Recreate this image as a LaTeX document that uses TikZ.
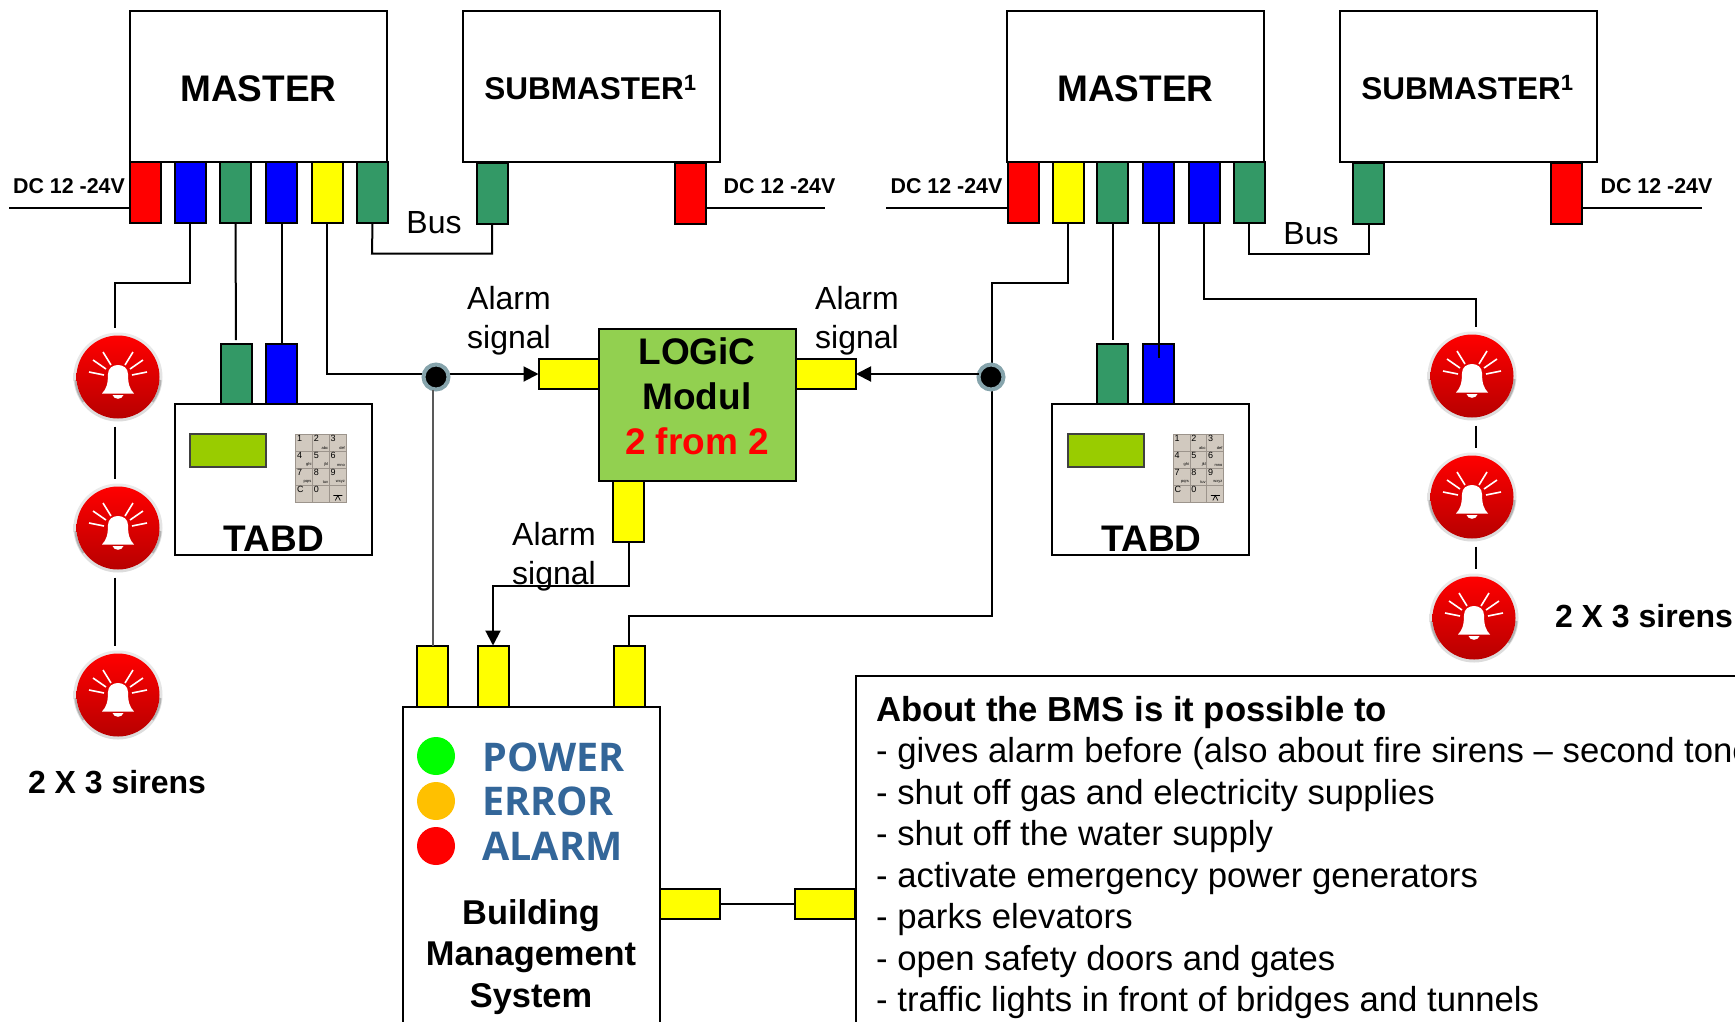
\documentclass[tikz,border=0pt]{standalone}
\usepackage{fontspec}
\setmainfont{Liberation Sans}
\newfontfamily\lampfont{Open Sans}
\usetikzlibrary{arrows.meta}
\definecolor{pgreen}{HTML}{339966}
\definecolor{pblue}{HTML}{0000FF}
\definecolor{pred}{HTML}{FF0000}
\definecolor{pyellow}{HTML}{FFFF00}
\definecolor{logicgreen}{HTML}{92D050}
\definecolor{lcdgreen}{HTML}{99CC00}
\definecolor{keybeige}{HTML}{D1C9BF}
\definecolor{keyline}{HTML}{9C948C}
\definecolor{lampblue}{HTML}{336699}
\definecolor{lampamber}{HTML}{FFC000}
\definecolor{junctiongray}{HTML}{86A4AC}
\tikzstyle{arrow} = [line width=2pt,->,>={Triangle[length=15pt,width=15pt]}]
\tikzstyle{wire} = [line width=2pt,line join=miter]
\tikzstyle{box} = [draw=black,fill=white,line width=2pt,inner sep=0pt,outer sep=0pt]
\tikzstyle{port} = [box,minimum width=31pt,minimum height=61pt]
\tikzstyle{sideport} = [box,fill=pyellow,minimum width=60pt,minimum height=30pt]
\tikzstyle{bigname} = [inner sep=0pt,font=\bfseries\fontsize{37}{37}\selectfont]
\tikzstyle{subname} = [inner sep=0pt,font=\bfseries\fontsize{31.5}{31.5}\selectfont]
\tikzstyle{dclabel} = [inner sep=0pt,font=\bfseries\fontsize{21.4}{21.4}\selectfont]
\tikzstyle{signal} = [inner sep=0pt,align=center,font=\fontsize{32}{38.5}\selectfont]
\tikzstyle{sirenlabel} = [inner sep=0pt,font=\bfseries\fontsize{32}{32}\selectfont]
\tikzstyle{lamp} = [circle,inner sep=0pt,minimum size=38pt]
\tikzstyle{lamptext} = [anchor=west,inner sep=0pt,text=lampblue,font=\lampfont\bfseries\fontsize{39.5}{39.5}\selectfont]
\tikzstyle{junction} = [circle,fill=black,draw=junctiongray,line width=4pt,minimum size=25pt,inner sep=0pt,outer sep=0pt]
\tikzstyle{keycell} = [draw=keyline,fill=keybeige,line width=1pt,minimum width=16.7pt,minimum height=17pt,inner sep=0pt,outer sep=0pt]
\tikzstyle{keynum} = [anchor=north west,inner sep=1pt,font=\fontsize{9}{9}\selectfont]
\tikzstyle{keysub} = [anchor=south east,inner sep=1pt,font=\fontsize{4}{4}\selectfont]
% one siren with its bell
\newcommand{\sirenicon}[3]{
  \node[circle,minimum size=89pt,inner sep=0pt,outer sep=5pt,top color=black!8,bottom color=black!14] (#1) at (#2,#3) {};
  \begin{scope}[shift={(#2,#3)}]
    \draw[black!30,line width=2pt] (42.5,3) arc[start angle=4,end angle=36,radius=42.5];
    \draw[black!30,line width=2pt] (-42.5,3) arc[start angle=176,end angle=144,radius=42.5];
  \end{scope}
  \node[circle,minimum size=83pt,inner sep=0pt,top color=pred,bottom color=pred!72!black] (#1i) at (#2,#3) {};
  \begin{scope}[shift={(#2,#3)}]
    \fill[white] (-16,16.5) .. controls (-12,12) and (-10,8) .. (-10,-3) .. controls (-10,-9) and (-5,-12) .. (0,-12) .. controls (5,-12) and (10,-9) .. (10,-3) .. controls (10,8) and (12,12) .. (16,16.5) -- cycle;
    \fill[white] (-5.5,18) .. controls (-4,23) and (4,23) .. (5.5,18) -- cycle;
    \draw[white,line width=1.6pt] (-15,-25) -- (-7,-12) (15,-25) -- (7,-12) (-25,-17) -- (-12,-8) (25,-17) -- (12,-8) (-29,-5) -- (-14,-2) (29,-5) -- (14,-2);
  \end{scope}
}
% keypad of a TABD panel
\newcommand{\keypad}[3]{
  \foreach \row/\col/\num/\sub in {0/0/1/,0/1/2/abc,0/2/3/def,1/0/4/ghi,1/1/5/jkl,1/2/6/mno,2/0/7/pqrs,2/1/8/tuv,2/2/9/wxyz,3/0/C/,3/1/0/} {
    \node[keycell] (#1c\row\col) at ({#2+16.7*\col},{#3+17*\row}) {};
    \node[keynum] (#1n\row\col) at (#1c\row\col.north west) {\num};
    \node[keysub] (#1s\row\col) at (#1c\row\col.south east) {\sub};
  }
  \node[keycell] (#1c32) at ({#2+33.4},{#3+51}) {};
  \draw[line width=.6pt] ({#2+29},{#3+53}) -- ({#2+38},{#3+53}) ({#2+31},{#3+58}) -- ({#2+33.5},{#3+53}) -- ({#2+36},{#3+58});
}
\begin{document}
\begin{tikzpicture}[x=1pt,y=-1pt]
  \clip (0,0) rectangle (1735,1021);
  % Masters and submasters
  \node[box,minimum width=257pt,minimum height=151pt] (MA) at (258.5,86.5) {};
  \node[box,minimum width=257pt,minimum height=151pt] (SA) at (591,86.5) {};
  \node[box,minimum width=257pt,minimum height=151pt] (MB) at (1135.5,86.5) {};
  \node[box,minimum width=257pt,minimum height=151pt] (SB) at (1468.5,86.5) {};
  \node[bigname] (MAt) at (258.5,89) {MASTER};
  \node[subname] (SAt) at (590.5,88) {SUBMASTER\textsuperscript{1}};
  \node[bigname] (MBt) at (1135.5,89) {MASTER};
  \node[subname] (SBt) at (1467.5,88) {SUBMASTER\textsuperscript{1}};

  % Ports on the masters
  \node[port,fill=pred] (MA1) at (145.5,192.5) {};
  \node[port,fill=pblue] (MA2) at (190,192.5) {};
  \node[port,fill=pgreen] (MA3) at (235.5,192.5) {};
  \node[port,fill=pblue] (MA4) at (281.5,192.5) {};
  \node[port,fill=pyellow] (MA5) at (327,192.5) {};
  \node[port,fill=pgreen] (MA6) at (372.5,192.5) {};
  \node[port,fill=pgreen] (SA1) at (492,193.5) {};
  \node[port,fill=pred] (SA2) at (690,193.5) {};
  \node[port,fill=pred] (MB1) at (1023,192.5) {};
  \node[port,fill=pyellow] (MB2) at (1068,192.5) {};
  \node[port,fill=pgreen] (MB3) at (1112.5,192.5) {};
  \node[port,fill=pblue] (MB4) at (1158.5,192.5) {};
  \node[port,fill=pblue] (MB5) at (1204,192.5) {};
  \node[port,fill=pgreen] (MB6) at (1249,192.5) {};
  \node[port,fill=pgreen] (SB1) at (1368.5,193.5) {};
  \node[port,fill=pred] (SB2) at (1566.5,193.5) {};

  % Supply lines
  \coordinate (DA1) at (9,208);
  \coordinate (DA2) at (825,208);
  \coordinate (DB1) at (886,208);
  \coordinate (DB2) at (1702,208);
  \draw[wire] (DA1) -- (MA1.west |- DA1);
  \draw[wire] (SA2.east |- DA2) -- (DA2);
  \draw[wire] (DB1) -- (MB1.west |- DB1);
  \draw[wire] (SB2.east |- DB2) -- (DB2);
  \node[dclabel] (DAa) at (69,186) {DC 12 -24V};
  \node[dclabel] (DAb) at (779.5,186) {DC 12 -24V};
  \node[dclabel] (DBa) at (946.5,186) {DC 12 -24V};
  \node[dclabel] (DBb) at (1656.5,186) {DC 12 -24V};

  % Bus
  \coordinate (BusA) at (372,253.5);
  \coordinate (BusB) at (1249,253.5);
  \draw[wire] (MA6.south) -- (BusA) -| (SA1.south);
  \draw[wire] (MB6.south) -- (BusB) -| (SB1.south);
  \node[signal] (BusAt) at (434,223) {Bus};
  \node[signal] (BusBt) at (1311,234) {Bus};

  % TABD panels
  \node[box,minimum width=197pt,minimum height=151pt] (TA) at (273.5,479.5) {};
  \node[box,minimum width=197pt,minimum height=151pt] (TB) at (1150.5,479.5) {};
  \node[port,fill=pgreen,minimum height=60pt] (TA1) at (236,374) {};
  \node[port,fill=pblue,minimum height=60pt] (TA2) at (281.5,374) {};
  \node[port,fill=pgreen,minimum height=60pt] (TB1) at (1112.5,374) {};
  \node[port,fill=pblue,minimum height=60pt] (TB2) at (1158.5,374) {};
  \node[box,draw=black!75,fill=lcdgreen,minimum width=76pt,minimum height=33pt] (LA) at (228,450.5) {};
  \node[box,draw=black!75,fill=lcdgreen,minimum width=76pt,minimum height=33pt] (LB) at (1105.5,450.5) {};
  \keypad{KA}{304.3}{442.5}
  \keypad{KB}{1181.8}{442.5}
  \node[bigname] (TAt) at (274,538.5) {TABD};
  \node[bigname] (TBt) at (1151.5,538.5) {TABD};
  \draw[wire,shorten >=4pt] (MA3.south) -- (TA1.north);
  \draw[wire] (MA4.south) -- (TA2.north);
  \draw[wire,shorten >=4pt] (MB3.south) -- (TB1.north);
  \draw[wire,shorten >=-14pt] (MB4.south) -- (TB2.north);

  % Sirens
  \sirenicon{SirA}{118}{377}
  \sirenicon{SirB}{118}{528}
  \sirenicon{SirC}{118}{695}
  \sirenicon{SirD}{1472}{376}
  \sirenicon{SirE}{1472}{497}
  \sirenicon{SirF}{1474}{618}
  \coordinate (TurnA) at (115,283);
  \coordinate (TurnB) at (1476,298.5);
  \draw[wire] (MA2.south) |- (TurnA) -- (SirA.north -| TurnA);
  \draw[wire] (SirA.south -| TurnA) -- (SirB.north -| TurnA);
  \draw[wire] (SirB.south -| TurnA) -- (SirC.north -| TurnA);
  \draw[wire] (MB5.south) |- (TurnB) -- (SirD.north -| TurnB);
  \draw[wire] (SirD.south -| TurnB) -- (SirE.north -| TurnB);
  \draw[wire] (SirE.south -| TurnB) -- (SirF.north -| TurnB);
  \node[sirenlabel] (SirLa) at (117,782.5) {2 X 3 sirens};
  \node[sirenlabel] (SirLb) at (1644,616.5) {2 X 3 sirens};

  % Logic module
  \node[box,fill=logicgreen,minimum width=197pt,minimum height=152pt] (LG) at (697,404.5) {};
  \node[sideport] (LGl) at (568.5,374) {};
  \node[sideport] (LGr) at (826,374) {};
  \node[port,fill=pyellow] (LGb) at (628.5,511) {};
  \node[bigname] (LGa) at (697,351) {LOGiC};
  \node[bigname] (LGc) at (697,396) {Modul};
  \node[bigname,text=pred] (LGd) at (697,441) {2 from 2};
  \node[signal] (AlA) at (509,320.5) {Alarm\\signal};
  \node[signal] (AlB) at (857,320.5) {Alarm\\signal};
  \node[signal] (AlC) at (554,556.5) {Alarm\\signal};

  % Building management system
  \node[box,minimum width=257pt,minimum height=400pt] (BM) at (531,907) {};
  \node[port,fill=pyellow] (BM1) at (432.5,676) {};
  \node[port,fill=pyellow] (BM2) at (493,676) {};
  \node[port,fill=pyellow] (BM3) at (629,676) {};
  \node[lamp,fill=green] (LpA) at (436,756) {};
  \node[lamp,fill=lampamber] (LpB) at (436,801) {};
  \node[lamp,fill=pred] (LpC) at (436,846) {};
  \node[lamptext] (LtA) at (482,757) {POWER};
  \node[lamptext] (LtB) at (482,801) {ERROR};
  \node[lamptext] (LtC) at (482,846) {ALARM};
  \node[inner sep=0pt,align=center,font=\bfseries\fontsize{34.4}{41.5}\selectfont] (BMt) at (531,957) {Building\\Management\\System};

  % List of what the BMS does
  \node[box,minimum width=1089pt,minimum height=548pt] (BT) at (1400,950) {};
  \node[anchor=north west,inner sep=0pt,align=left,font=\fontsize{34.7}{41.5}\selectfont] (BTt) at (876,696) {\textbf{About the BMS is it possible to}\\- gives alarm before (also about fire sirens -- second tone\\- shut off gas and electricity supplies\\- shut off the water supply\\- activate emergency power generators\\- parks elevators\\- open safety doors and gates\\- traffic lights in front of bridges and tunnels};
  \node[sideport] (BMr) at (690,904) {};
  \node[sideport] (BTl) at (825,904) {};
  \draw[wire] (BMr.east) -- (BTl.west);

  % Alarm wires
  \coordinate (TurnC) at (991.5,283);
  \coordinate (TurnD) at (991.5,616);
  \coordinate (TurnE) at (493,586);
  \draw[arrow] (MA5.south) |- (LGl.west);
  \draw[wire] (MB2.south) |- (TurnC) -- (TurnD) -| (BM3.north);
  \node[junction] (JA) at (436,377) {};
  \node[junction] (JB) at (991,377) {};
  \draw[arrow] (JB.west |- LGr.east) -- (LGr.east);
  \draw[wire,black!65] (JA.south -| BM1) -- (BM1.north);
  \draw[arrow] (LGb.south) |- (TurnE) -- (BM2.north);
\end{tikzpicture}
\end{document}
